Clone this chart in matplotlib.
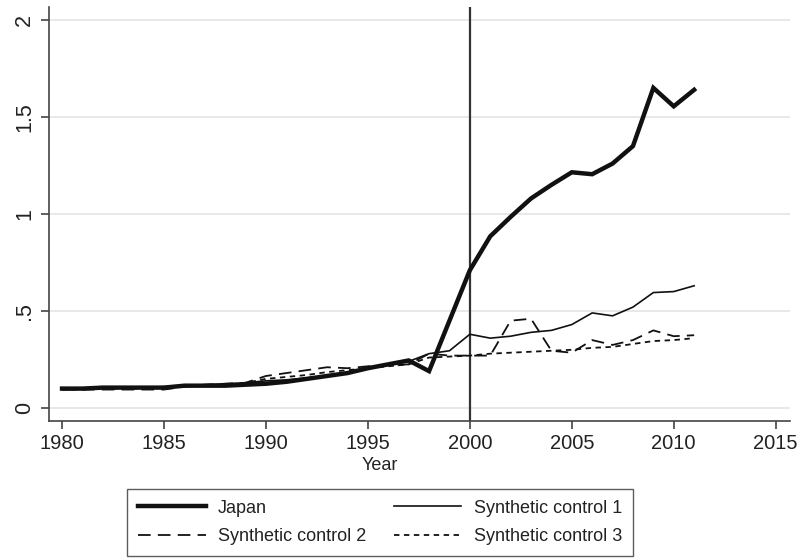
import numpy as np
import matplotlib
matplotlib.use("Agg")
import matplotlib.pyplot as plt

plt.rcParams["font.family"] = ["Liberation Sans", "DejaVu Sans"]

# data
years = list(range(1980, 2012))
japan = [0.10, 0.10, 0.105, 0.105, 0.105, 0.105, 0.115, 0.115, 0.115, 0.12,
         0.125, 0.135, 0.15, 0.165, 0.18, 0.205, 0.225, 0.245, 0.19, 0.45,
         0.71, 0.885, 0.985, 1.08, 1.15, 1.215, 1.205, 1.26, 1.35, 1.65,
         1.555, 1.64]
synth1 = [0.10, 0.10, 0.105, 0.105, 0.105, 0.11, 0.115, 0.12, 0.125, 0.13,
          0.14, 0.145, 0.155, 0.165, 0.18, 0.205, 0.225, 0.24, 0.28, 0.295,
          0.38, 0.36, 0.37, 0.39, 0.40, 0.43, 0.49, 0.475, 0.52, 0.595,
          0.60, 0.63]
synth2 = [0.095, 0.095, 0.095, 0.095, 0.095, 0.095, 0.11, 0.12, 0.125, 0.13,
          0.165, 0.18, 0.195, 0.21, 0.205, 0.215, 0.22, 0.225, 0.28, 0.27,
          0.27, 0.27, 0.45, 0.46, 0.295, 0.285, 0.35, 0.325, 0.35, 0.40,
          0.37, 0.375]
synth3 = [0.095, 0.095, 0.10, 0.10, 0.10, 0.105, 0.11, 0.115, 0.12, 0.13,
          0.15, 0.16, 0.17, 0.185, 0.195, 0.205, 0.215, 0.225, 0.26, 0.265,
          0.27, 0.28, 0.285, 0.29, 0.295, 0.30, 0.31, 0.315, 0.33, 0.345,
          0.35, 0.36]

xticks = [1980, 1985, 1990, 1995, 2000, 2005, 2010, 2015]
yticks = [0, 0.5, 1, 1.5, 2]
ylabels = ["0", ".5", "1", "1.5", "2"]

fig = plt.figure(figsize=(8.02, 5.59), dpi=100)
ax = fig.add_axes([0.0611, 0.2469, 0.9239, 0.7406])

for y in yticks:
    ax.axhline(y, color="#e4e4e4", lw=1.2, zorder=0)
ax.axvline(2000, color="#333333", lw=1.6, zorder=1)

l_jp, = ax.plot(years, japan, color="#111111", lw=3.2, label="Japan",
                solid_joinstyle="miter", zorder=5)
l_s1, = ax.plot(years, synth1, color="#111111", lw=1.2,
                label="Synthetic control 1", zorder=4)
l_s2, = ax.plot(years, synth2, color="#111111", lw=1.3, dashes=(7, 4),
                label="Synthetic control 2", zorder=3)
l_s3, = ax.plot(years, synth3, color="#111111", lw=1.3, dashes=(3, 2.5),
                label="Synthetic control 3", zorder=3)

ax.set_xlim(1979.36, 2015.7)
ax.set_ylim(-0.067, 2.067)
ax.set_xticks(xticks)
ax.set_yticks(yticks)
ax.set_yticklabels(ylabels, rotation=90, va="center")

for s in ["top", "right"]:
    ax.spines[s].set_visible(False)
for s in ["left", "bottom"]:
    ax.spines[s].set_color("#444444")
    ax.spines[s].set_linewidth(1.2)
ax.tick_params(axis="both", colors="#444444", labelcolor="#222222",
               labelsize=14.5, length=6, width=1.2)
ax.tick_params(axis="y", pad=4, labelsize=15.5)

fig.text(380 / 802, 1 - 465 / 559, "Year", ha="center", va="center",
         fontsize=13, color="#222222")

# row-major order like the original: Japan, SC1 / SC2, SC3
handles = [l_jp, l_s2, l_s1, l_s3]
leg = fig.legend(handles, [h.get_label() for h in handles],
                 loc="center", bbox_to_anchor=(380 / 802, 1 - 522.5 / 559),
                 ncol=2, fontsize=13, frameon=True, fancybox=False,
                 edgecolor="#333333", handlelength=3.75, handletextpad=0.7,
                 columnspacing=1.5, borderpad=0.6, labelspacing=0.65,
                 borderaxespad=0)
leg.get_frame().set_linewidth(1.0)
for t in leg.get_texts():
    t.set_color("#222222")

fig.savefig("out.png", dpi=100)
